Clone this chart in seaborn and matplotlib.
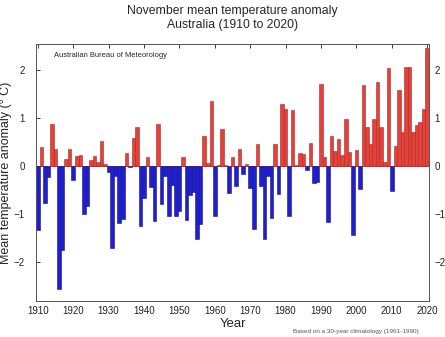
import numpy as np
import pandas as pd
import matplotlib
matplotlib.use("Agg")
import matplotlib.pyplot as plt
import seaborn as sns

years = list(range(1910, 2021))
anomaly = [
    -1.33, 0.40, -0.76, -0.22, 0.87, 0.35, -2.55, -1.75, 0.15, 0.35,   # 1910s
    -0.30, 0.20, 0.23, -1.00, -0.82, 0.12, 0.21, 0.09, 0.52, 0.04,     # 1920s
    -0.12, -1.70, -0.20, -1.19, -1.09, 0.28, -0.03, 0.59, 0.80, -1.25, # 1930s
    -0.67, 0.19, -0.44, -1.15, 0.88, -0.78, -0.21, -1.04, -0.39, -1.04,# 1940s
    -0.93, 0.18, -1.12, -0.61, -0.53, -1.51, -1.21, 0.63, 0.06, 1.35,  # 1950s
    -1.04, 0.03, 0.76, 0.03, -0.55, 0.18, -0.41, 0.36, -0.16, 0.04,    # 1960s
    -0.45, -1.31, 0.45, -0.41, -1.51, -0.20, -1.08, 0.45, -0.59, 1.29, # 1970s
    1.19, -1.04, 1.16, 0.02, 0.28, 0.26, -0.08, 0.47, -0.35, -0.33,    # 1980s
    1.70, 0.19, -1.16, 0.62, 0.31, 0.57, 0.22, 0.97, 0.29, -1.43,      # 1990s
    0.34, -0.47, 1.69, 0.81, 0.46, 0.98, 1.75, 0.81, 0.09, 2.04,       # 2000s
    -0.52, 0.42, 1.57, 0.71, 2.06, 2.05, 0.71, 0.85, 0.92, 1.19,       # 2010s
    2.46,                                                              # 2020
]
xticks = list(range(1910, 2021, 10))
yticks = [-2, -1, 0, 1, 2]

title = "November mean temperature anomaly\nAustralia (1910 to 2020)"
source = "Australian Bureau of Meteorology"
note = "Based on a 30-year climatology (1961-1990)"

df = pd.DataFrame({"year": years, "anomaly": anomaly})
df["sign"] = np.where(df["anomaly"] >= 0, "pos", "neg")

sns.set_theme(style="white")
plt.rcParams["font.family"] = ["Liberation Sans", "DejaVu Sans"]

fig = plt.figure(figsize=(4.45, 3.37), dpi=100)
ax = fig.add_axes([0.081, 0.107, 0.883, 0.762])

pal = {"pos": "#e5403a", "neg": "#1f1fd0"}
sns.barplot(data=df, x="year", y="anomaly", hue="sign", palette=pal,
            native_scale=True, dodge=False, width=1.0, legend=False,
            saturation=1.0, ax=ax)
for p in ax.patches:
    fc = p.get_facecolor()
    if fc[0] > fc[2]:
        p.set_edgecolor("#a52a22")
    else:
        p.set_edgecolor("#12128a")
    p.set_linewidth(0.4)

ax.axhline(0, color="#a52a22", lw=0.6, zorder=0.5)
ax.set_xlim(1909.5, 2020.5)
ax.set_ylim(-2.8, 2.53)
ax.set_xticks(xticks)
ax.set_xticklabels([str(t) for t in xticks])
ax.set_yticks(yticks)
ax.tick_params(axis="both", direction="in", length=3, width=0.6,
               top=True, right=True, labelsize=7,
               colors="#222222", pad=4)
ax.tick_params(axis="y", pad=8)
for s in ax.spines.values():
    s.set_color("#555555")
    s.set_linewidth(0.7)

ax2 = ax.twinx()
ax2.set_ylim(ax.get_ylim())
ax2.set_yticks(yticks)
ax2.tick_params(axis="y", direction="in", length=0, labelsize=7,
                colors="#222222", pad=4)
ax2.grid(False)
for s in ax2.spines.values():
    s.set_visible(False)

ax.set_xlabel("Year", fontsize=9.5, labelpad=1)
ax.set_ylabel("Mean temperature anomaly (° C)", fontsize=9, labelpad=1)
fig.text(0.522, 0.985, title, ha="center", va="top", fontsize=8.8,
         linespacing=1.25)
ax.text(0.045, 0.97, source, transform=ax.transAxes, fontsize=5.4,
        ha="left", va="top")
fig.text(0.94, 0.016, note, ha="right", va="center", fontsize=4.6,
         color="#555555")

fig.savefig("out.png", dpi=100)
